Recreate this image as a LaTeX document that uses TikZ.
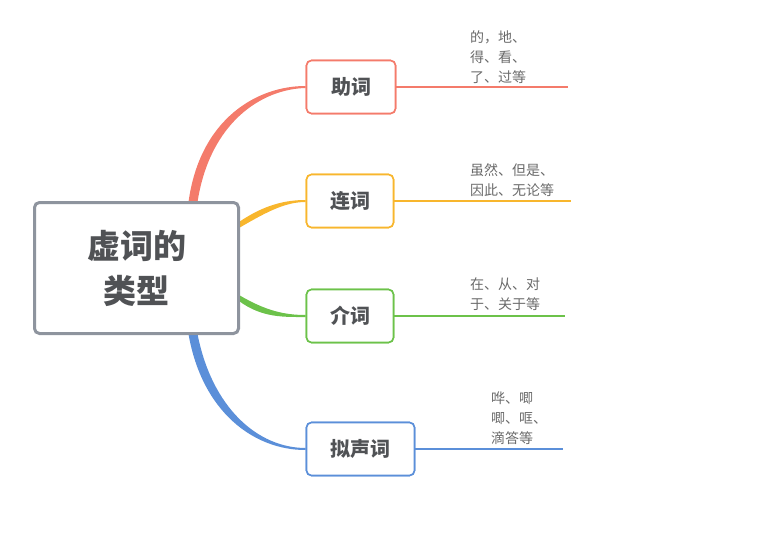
\documentclass[tikz,border=0pt]{standalone}
\usepackage{fontspec}
\setmainfont{Noto Sans CJK SC}
\usetikzlibrary{calc}
\definecolor{cred}{HTML}{F47B6B}
\definecolor{corange}{HTML}{F8B62D}
\definecolor{cgreen}{HTML}{6CC24A}
\definecolor{cblue}{HTML}{5B8FD9}
\definecolor{cgray}{HTML}{8E949E}
\definecolor{ctext}{HTML}{505255}
\definecolor{csmall}{HTML}{6A6A6A}
\tikzset{
  rootbox/.style={draw=cgray, line width=3pt, rounded corners=5pt, fill=white,
    minimum width=204pt, minimum height=131pt, inner sep=0pt, align=center,
    text=ctext, font=\fontsize{33}{45}\selectfont\bfseries},
  branchbox/.style={line width=1.6pt, rounded corners=5pt, fill=white,
    minimum height=53pt, inner sep=0pt, text=ctext, font=\fontsize{20}{24}\selectfont\bfseries},
  leaftext/.style={anchor=west, align=left, inner sep=0pt, text=csmall,
    font=\fontsize{14}{20}\selectfont},
}
\begin{document}
\begin{tikzpicture}[x=1pt,y=-1pt]
\useasboundingbox (0,0) rectangle (761,535);
\coordinate (s1) at (193,202);
\coordinate (s2) at (239,225);
\coordinate (s3) at (239,298);
\coordinate (s4) at (193,334);
\node[branchbox, draw=cred, minimum width=89pt] (b1) at (351,87) {助词};
\node[branchbox, draw=corange, minimum width=87pt] (b2) at (350,201) {连词};
\node[branchbox, draw=cgreen, minimum width=87pt] (b3) at (350,316) {介词};
\node[branchbox, draw=cblue, minimum width=108pt] (b4) at (360.5,449) {拟声词};
% leaf end points
\coordinate (e1) at (568,87);
\coordinate (e2) at (571,201);
\coordinate (e3) at (565,316);
\coordinate (e4) at (563,449);
% leaf lines (filled bands)
\fill[cred] ($(b1.east)+(0,-1)$) rectangle ($(e1)+(0,1)$);
\fill[corange] ($(b2.east)+(0,-1)$) rectangle ($(e2)+(0,1)$);
\fill[cgreen] ($(b3.east)+(0,-1)$) rectangle ($(e3)+(0,1)$);
\fill[cblue] ($(b4.east)+(0,-1)$) rectangle ($(e4)+(0,1)$);
% tapered curves
\fill[cred] ($(s1)+(-4.5,0)$) .. controls (200,118) and (258,85.8) .. ($(b1.west)+(0,-1)$)
  -- ($(b1.west)+(0,1)$) .. controls (262,89) and (210,122) .. ($(s1)+(4.5,0)$) -- cycle;
\fill[corange] ($(s2)+(0,-3)$) .. controls (264,205) and (285,200) .. ($(b2.west)+(0,-1)$)
  -- ($(b2.west)+(0,1)$) .. controls (286,202) and (268,211) .. ($(s2)+(0,3)$) -- cycle;
\fill[cgreen] ($(s3)+(0,-3)$) .. controls (266,311) and (285,315) .. ($(b3.west)+(0,-1)$)
  -- ($(b3.west)+(0,1)$) .. controls (284,317) and (262,318) .. ($(s3)+(0,3)$) -- cycle;
\fill[cblue] ($(s4)+(-4.5,0)$) .. controls (202,412) and (254,450.2) .. ($(b4.west)+(0,1)$)
  -- ($(b4.west)+(0,-1)$) .. controls (258,448) and (212,408) .. ($(s4)+(4.5,0)$) -- cycle;
% redraw branch boxes on top
\node[branchbox, draw=cred, minimum width=89pt] at (b1) {助词};
\node[branchbox, draw=corange, minimum width=87pt] at (b2) {连词};
\node[branchbox, draw=cgreen, minimum width=87pt] at (b3) {介词};
\node[branchbox, draw=cblue, minimum width=108pt] at (b4) {拟声词};
% root
\node[rootbox] (root) at (136.5,268) {虚词的\\类型};
% leaf texts
\node[leaftext] (t1) at (470,57) {的，地、\\得、看、\\了、过等};
\node[leaftext] (t2) at (470,180) {虽然、但是、\\因此、无论等};
\node[leaftext] (t3) at (470,294) {在、从、对\\于、关于等};
\node[leaftext] (t4) at (491,418) {哗、唧\\唧、哐、\\滴答等};
\end{tikzpicture}
\end{document}
